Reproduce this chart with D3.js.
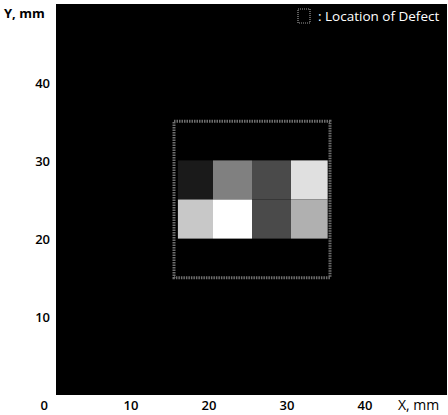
<!DOCTYPE html>
<html>
<head>
<meta charset="utf-8">
<script src="https://cdn.jsdelivr.net/npm/d3@7"></script>
<style>
  html, body { margin: 0; padding: 0; background: #fff; }
  svg { display: block; }
  text { font-family: "Open Sans", "Noto Sans", sans-serif; }
</style>
</head>
<body>
<svg id="chart" width="448" height="415"></svg>
<script>
// Scan grid (mm): column and row boundaries of the measured cells
const xEdges = [15.5, 20, 25, 30, 34.7];
const yEdges = [20, 25, 30];
// Grey level (0-255) of each cell, top row first, left to right
const rowTop = [26, 128, 74, 224];
const rowBottom = [200, 255, 74, 176];
// Defect outline (mm)
const defectX = [15, 35];
const defectY = [15, 35];
// Axis tick labels
const xTicks = [10, 20, 30, 40];
const yTicks = [10, 20, 30, 40];

const svg = d3.select("#chart");
const x = d3.scaleLinear().domain([0, 50]).range([57, 447]);
const y = d3.scaleLinear().domain([0, 50]).range([395, 4]);
const grey = d3.scaleLinear().domain([0, 255]).range(["#000000", "#ffffff"]);

// Scan field background
svg.append("rect")
  .attr("x", x(0)).attr("y", y(50))
  .attr("width", x(50) - x(0)).attr("height", y(0) - y(50))
  .attr("fill", "#000");

// Cells
const cells = [];
[rowTop, rowBottom].forEach((row, r) => {
  row.forEach((v, c) => {
    cells.push({x0: xEdges[c], x1: xEdges[c + 1], y0: yEdges[1 - r], y1: yEdges[2 - r], v});
  });
});
svg.append("g").selectAll("rect").data(cells).join("rect")
  .attr("x", d => x(d.x0))
  .attr("y", d => y(d.y1))
  .attr("width", d => x(d.x1) - x(d.x0))
  .attr("height", d => y(d.y0) - y(d.y1))
  .attr("fill", d => grey(d.v));

// Defect outline
svg.append("rect")
  .attr("x", x(defectX[0])).attr("y", y(defectY[1]))
  .attr("width", x(defectX[1]) - x(defectX[0]))
  .attr("height", y(defectY[0]) - y(defectY[1]))
  .attr("fill", "none")
  .attr("stroke", "#6e6e6e")
  .attr("stroke-width", 3)
  .attr("stroke-dasharray", "1.5 1");

// Left axis line
svg.append("line")
  .attr("x1", x(0)).attr("x2", x(0))
  .attr("y1", y(50)).attr("y2", y(0))
  .attr("stroke", "#000").attr("stroke-width", 2);

// Tick labels
svg.append("g").selectAll("text").data(xTicks).join("text")
  .attr("x", d => x(d) - 4)
  .attr("y", 410)
  .attr("text-anchor", "middle")
  .attr("font-size", 13).attr("font-weight", 600)
  .text(d => d);
svg.append("g").selectAll("text").data(yTicks).join("text")
  .attr("x", 50)
  .attr("y", d => y(d) + 2)
  .attr("text-anchor", "end")
  .attr("dominant-baseline", "middle")
  .attr("font-size", 13).attr("font-weight", 600)
  .text(d => d);
svg.append("text")
  .attr("x", 48).attr("y", 410)
  .attr("text-anchor", "end")
  .attr("font-size", 13).attr("font-weight", 600)
  .text("0");

// Axis titles
svg.append("text")
  .attr("x", 398).attr("y", 410)
  .attr("font-size", 14).attr("font-weight", 500)
  .text("X, mm");
svg.append("text")
  .attr("x", 4).attr("y", 18)
  .attr("font-size", 13).attr("font-weight", 700)
  .text("Y, mm");

// Legend
svg.append("rect")
  .attr("x", 298).attr("y", 9)
  .attr("width", 12).attr("height", 14)
  .attr("fill", "none")
  .attr("stroke", "#9a9a9a")
  .attr("stroke-width", 1.2)
  .attr("stroke-dasharray", "1 1");
svg.append("text")
  .attr("x", 318).attr("y", 21)
  .attr("fill", "#fff")
  .attr("font-size", 13.5)
  .attr("font-weight", 500)
  .text(": Location of Defect");
</script>
</body>
</html>
